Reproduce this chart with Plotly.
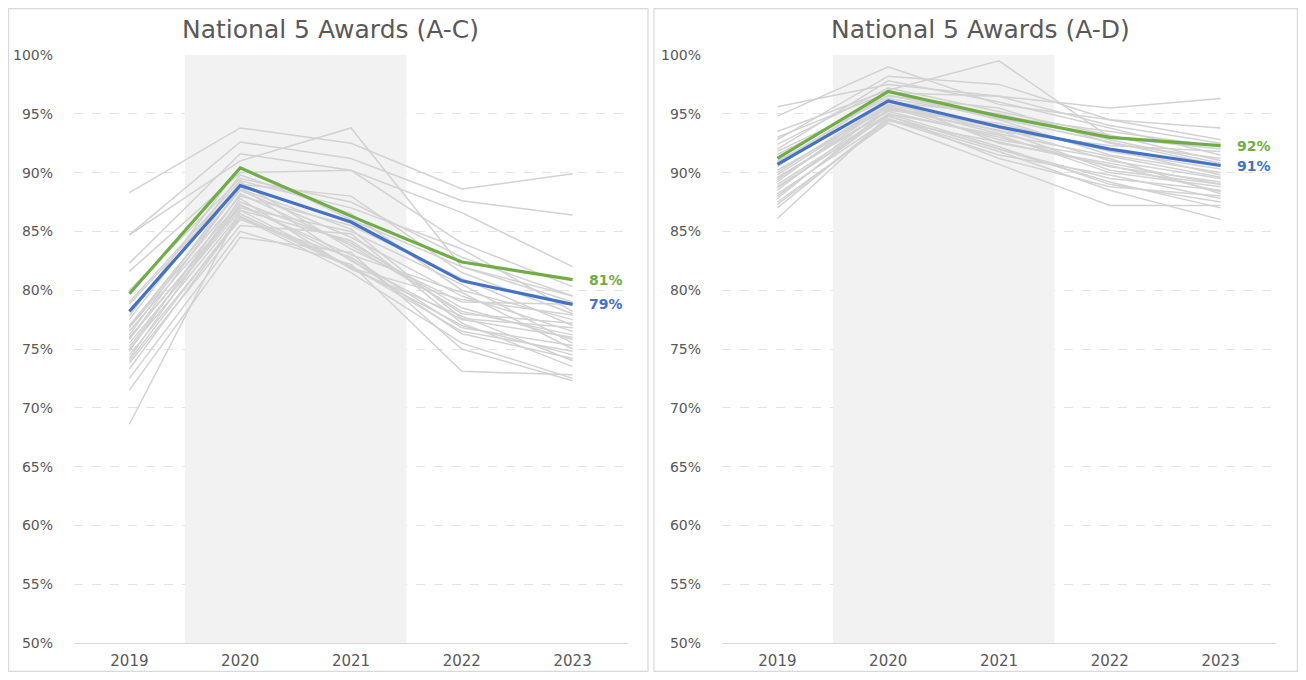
import plotly.graph_objects as go

years = ["2019", "2020", "2021", "2022", "2023"]
y_ticks = [50, 55, 60, 65, 70, 75, 80, 85, 90, 95, 100]
y_tick_labels = [f"{v}%" for v in y_ticks]

# National 5 A-C
ac_green = [79.7, 90.4, 86.3, 82.4, 80.9]
ac_blue = [78.2, 88.9, 85.8, 80.8, 78.8]
ac_others = [
    [88.3, 93.8, 92.5, 88.6, 89.9],
    [84.7, 91.0, 93.8, 82.0, 79.5],
    [84.7, 92.6, 91.2, 87.6, 86.4],
    [82.3, 91.6, 90.2, 86.6, 82.0],
    [81.6, 90.0, 90.2, 84.0, 80.3],
    [80.0, 89.5, 87.5, 82.8, 79.5],
    [78.8, 89.0, 88.0, 81.5, 78.0],
    [77.5, 89.8, 86.5, 80.0, 77.5],
    [77.0, 88.5, 84.5, 79.5, 76.5],
    [76.8, 88.0, 85.5, 81.0, 77.0],
    [76.5, 87.5, 84.0, 78.5, 75.8],
    [76.2, 89.2, 83.5, 79.0, 78.8],
    [76.0, 87.0, 85.0, 80.5, 75.5],
    [75.8, 88.8, 82.5, 77.5, 76.0],
    [75.5, 86.8, 84.2, 78.0, 77.2],
    [75.2, 87.2, 83.0, 79.8, 75.0],
    [75.0, 86.5, 82.0, 77.0, 74.5],
    [74.8, 88.2, 83.8, 78.2, 76.2],
    [74.5, 86.0, 82.8, 76.8, 75.3],
    [74.2, 87.8, 81.8, 77.8, 74.0],
    [73.8, 85.5, 84.8, 77.2, 73.5],
    [73.3, 86.2, 81.5, 75.5, 72.5],
    [72.5, 85.0, 82.2, 73.1, 72.8],
    [71.5, 84.5, 83.2, 75.0, 72.3],
    [68.6, 86.8, 82.0, 76.5, 74.8],
    [79.0, 89.3, 87.0, 83.5, 78.2],
    [77.8, 90.5, 86.0, 82.0, 79.0],
    [76.9, 88.6, 85.2, 77.6, 76.8],
    [75.9, 87.3, 82.6, 76.3, 74.2],
    [74.0, 86.3, 81.9, 79.2, 77.9],
]

# National 5 A-D
ad_green = [91.2, 96.9, 94.8, 93.0, 92.3]
ad_blue = [90.7, 96.1, 93.9, 92.0, 90.6]
ad_others = [
    [95.6, 97.5, 96.5, 95.5, 96.3],
    [94.8, 99.0, 95.8, 94.5, 93.8],
    [93.5, 97.0, 99.5, 93.0, 92.0],
    [92.8, 98.2, 97.5, 94.5, 92.8],
    [92.0, 97.8, 96.0, 93.8, 91.5],
    [91.5, 96.5, 95.5, 92.5, 91.2],
    [91.0, 96.0, 95.0, 92.8, 90.8],
    [90.5, 96.8, 94.5, 91.5, 90.0],
    [90.2, 95.5, 94.0, 92.0, 89.8],
    [89.8, 95.8, 93.8, 91.0, 89.5],
    [89.5, 95.2, 93.0, 90.5, 89.2],
    [89.2, 96.2, 92.5, 90.8, 89.0],
    [89.0, 95.0, 93.2, 90.0, 88.8],
    [88.8, 94.8, 92.0, 89.5, 88.5],
    [88.5, 95.6, 92.8, 91.2, 88.2],
    [88.2, 94.5, 91.5, 89.8, 87.8],
    [88.0, 95.0, 92.2, 89.0, 87.5],
    [87.5, 94.2, 90.7, 87.2, 87.2],
    [87.0, 94.6, 91.8, 88.5, 86.0],
    [86.1, 94.8, 92.0, 89.2, 87.0],
    [91.8, 96.3, 94.8, 93.5, 92.2],
    [90.0, 96.0, 93.5, 92.3, 91.8],
    [89.6, 95.3, 94.2, 91.8, 90.3],
    [88.7, 94.9, 91.2, 88.8, 88.0],
    [87.8, 95.4, 93.6, 90.2, 89.0],
    [92.4, 97.2, 95.2, 93.2, 91.0],
    [90.9, 96.6, 94.6, 92.6, 90.6],
    [89.4, 95.7, 93.3, 91.4, 89.6],
    [87.3, 94.4, 92.6, 90.6, 88.4],
    [93.0, 96.8, 96.5, 94.0, 92.5],
]

titles = ["National 5 Awards (A-C)", "National 5 Awards (A-D)"]

GREEN = "#70ad47"
BLUE = "#4472c4"
GRAY = "#d2d2d2"
TEXT = "#595959"
FONT = "DejaVu Sans"

# the page body adds an 8px margin; size the figure so the page fits the window
OFF = 8
W, H = 1306 - 2 * OFF, 680 - 2 * OFF


def px(x):
    return (x - OFF) / W


def py(y):
    return (H - (y - OFF)) / H


fig = go.Figure()
last = len(years) - 1

panels = [
    ("x", "y", ac_others, ac_green, ac_blue),
    ("x2", "y2", ad_others, ad_green, ad_blue),
]
for xa, ya, others, green, blue in panels:
    for s in others:
        fig.add_trace(go.Scatter(x=years, y=s, mode="lines", xaxis=xa, yaxis=ya,
                                 line=dict(color=GRAY, width=1.5), hoverinfo="skip",
                                 showlegend=False))
    fig.add_trace(go.Scatter(x=years, y=green, mode="lines", xaxis=xa, yaxis=ya,
                             line=dict(color=GREEN, width=3.2), showlegend=False))
    fig.add_trace(go.Scatter(x=years, y=blue, mode="lines", xaxis=xa, yaxis=ya,
                             line=dict(color=BLUE, width=3.2), showlegend=False))
    for series, col in [(green, GREEN), (blue, BLUE)]:
        fig.add_annotation(x=last, y=series[-1], xref=xa, yref=ya,
                           text=f"<b>{round(series[-1])}%</b>", showarrow=False,
                           xanchor="left", yanchor="middle", xshift=14,
                           font=dict(family=FONT, size=14, color=col))
    # shaded 2020-2021 band
    fig.add_shape(type="rect", xref=xa, yref=ya, x0=0.5, x1=2.5, y0=50, y1=100,
                  fillcolor="#f2f2f2", line=dict(width=0), layer="between")

left_dom = [px(74), px(628)]
right_dom = [px(722), px(1276)]
y_dom = [py(643), py(55)]

xaxis_common = dict(
    type="category", range=[-0.5, 4.5], showgrid=False, zeroline=False,
    showline=True, linecolor="#d9d9d9", linewidth=1.3, ticks="",
    tickfont=dict(family=FONT, size=15, color=TEXT), ticklabelstandoff=4,
    fixedrange=True, automargin=False,
)
yaxis_common = dict(
    range=[50, 100], tickvals=y_ticks, ticktext=y_tick_labels,
    showgrid=True, gridcolor="#e3e3e3", griddash="dash", gridwidth=1,
    zeroline=False, showline=False, ticks="",
    tickfont=dict(family=FONT, size=14, color=TEXT), ticklabelstandoff=20,
    fixedrange=True, automargin=False,
)

fig.update_layout(
    width=W, height=H,
    margin=dict(l=0, r=0, t=0, b=0, autoexpand=False),
    paper_bgcolor="white", plot_bgcolor="white",
    xaxis=dict(domain=left_dom, anchor="y", **xaxis_common),
    yaxis=dict(domain=y_dom, anchor="x", **yaxis_common),
    xaxis2=dict(domain=right_dom, anchor="y2", **xaxis_common),
    yaxis2=dict(domain=y_dom, anchor="x2", **yaxis_common),
)

# titles
for cx, t in [(330, titles[0]), (980, titles[1])]:
    fig.add_annotation(x=px(cx), y=py(30), xref="paper", yref="paper",
                       text=t, showarrow=False, xanchor="center", yanchor="middle",
                       font=dict(family=FONT, size=25, color=TEXT))

# panel borders
for x0, x1 in [(8.6, 648), (654, 1297.4)]:
    fig.add_shape(type="rect", xref="paper", yref="paper",
                  x0=px(x0), x1=px(x1), y0=py(671.4), y1=py(8.6),
                  line=dict(color="#d9d9d9", width=1.2), fillcolor="rgba(0,0,0,0)",
                  layer="above")

fig.write_html("out.html")
